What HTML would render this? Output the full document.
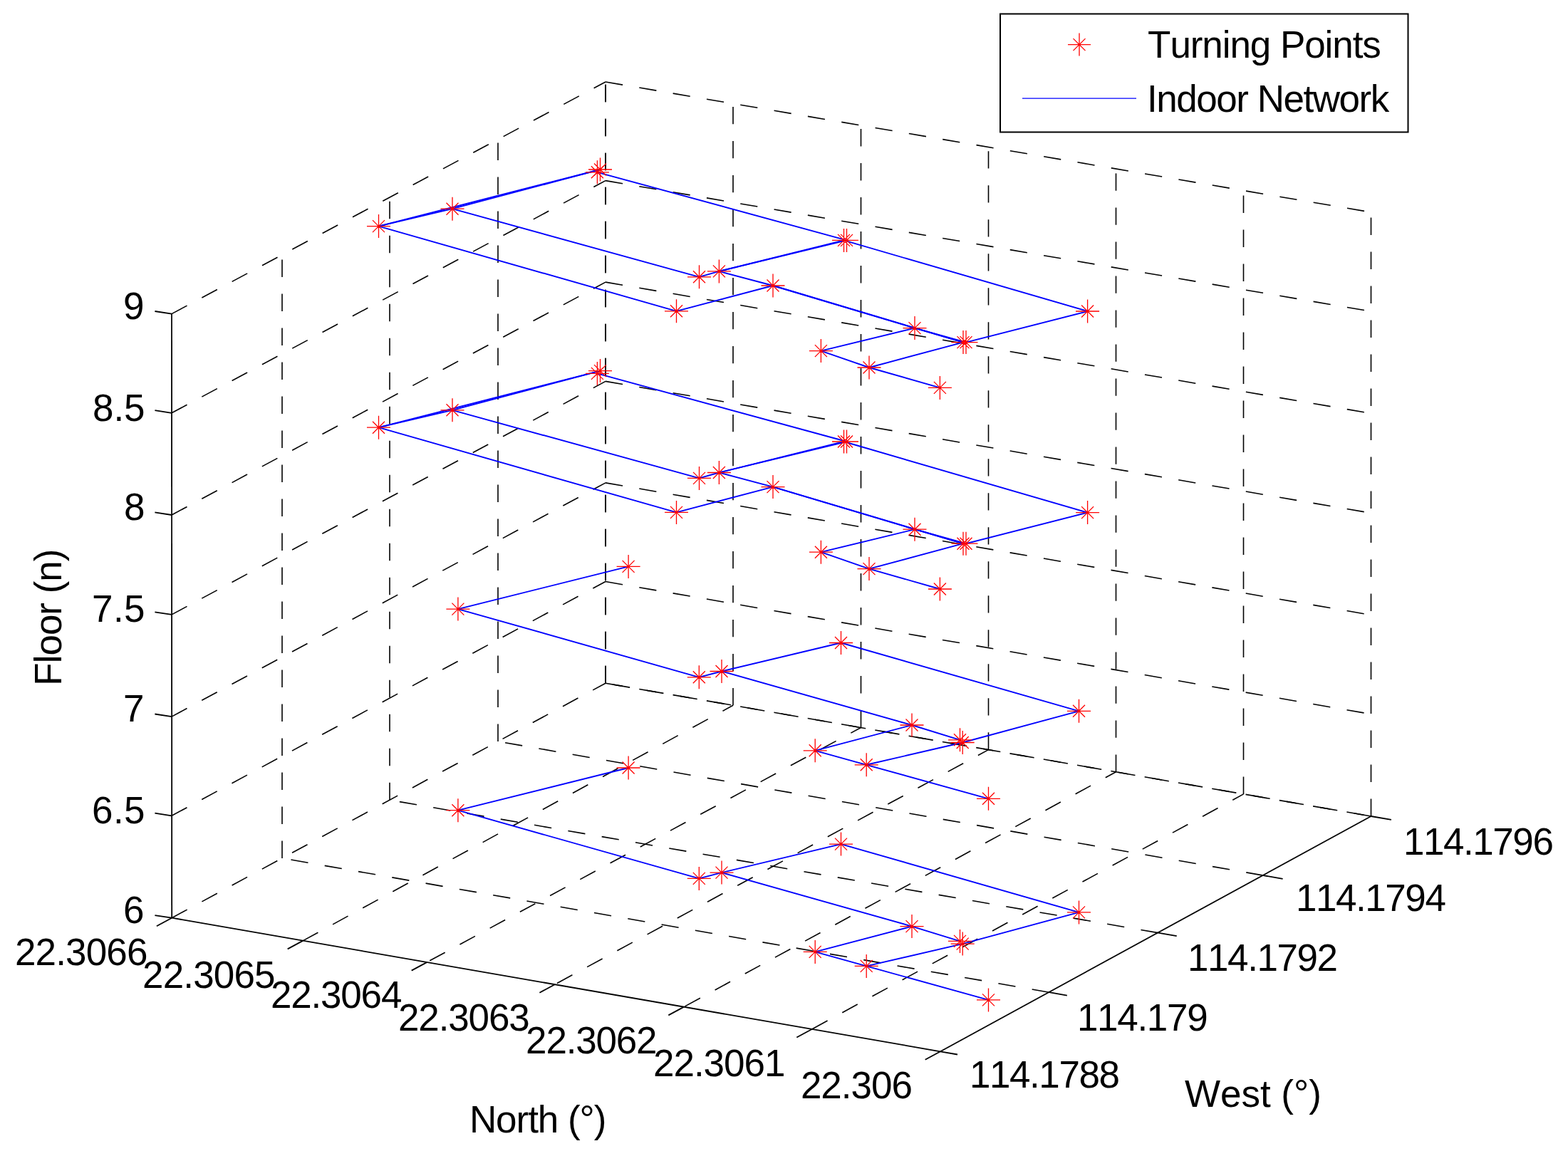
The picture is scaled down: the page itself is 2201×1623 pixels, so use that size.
<!DOCTYPE html>
<html><head><meta charset="utf-8"><style>
html,body{margin:0;padding:0;background:#fff;}
svg{display:block;}
.g{stroke:#000;stroke-width:1.6;stroke-dasharray:24.4 23.6;fill:none;}
.a{stroke:#000;stroke-width:1.8;fill:none;}
.d{stroke:#0000ff;stroke-width:1.9;fill:none;}
.mk{stroke:#ff0000;stroke-width:1.3;fill:none;}
.t{font-family:"Liberation Sans",Arial,Helvetica,sans-serif;font-size:53px;font-kerning:none;fill:#000;}
.lt{font-family:"Liberation Sans",Arial,Helvetica,sans-serif;font-size:53px;font-kerning:none;fill:#000;}
</style></head><body>
<svg width="2201" height="1623" viewBox="0 0 2201 1623" xmlns="http://www.w3.org/2000/svg">
<rect width="2201" height="1623" fill="#fff"/>
<line class="g" x1="241.2" y1="1288.7" x2="850" y2="959.2"/>
<line class="g" x1="425" y1="1320.9" x2="1029" y2="990.3"/>
<line class="g" x1="599" y1="1351.1" x2="1208.5" y2="1021.5" stroke-dashoffset="43.2"/>
<line class="g" x1="778.7" y1="1382.2" x2="1387.5" y2="1052.6" stroke-dashoffset="44.3"/>
<line class="g" x1="959.6" y1="1413.9" x2="1566.5" y2="1083.8" stroke-dashoffset="45.9"/>
<line class="g" x1="1139.6" y1="1445" x2="1745.5" y2="1114.9" stroke-dashoffset="47.4"/>
<line class="g" x1="1472.7" y1="1393.2" x2="396" y2="1204.9"/>
<line class="g" x1="1625.5" y1="1309.6" x2="547" y2="1123.2"/>
<line class="g" x1="1773.3" y1="1229.1" x2="699" y2="1040.9"/>
<line class="g" x1="1924.5" y1="1146" x2="850" y2="959.2"/>
<line class="g" x1="396" y1="1204.9" x2="396" y2="357.8"/>
<line class="g" x1="547" y1="1123.2" x2="547" y2="277.1"/>
<line class="g" x1="699" y1="1040.9" x2="699" y2="195.9"/>
<line class="g" x1="850" y1="959.2" x2="850" y2="115.3"/>
<line class="g" x1="241" y1="1145.3" x2="850" y2="816.5"/>
<line class="g" x1="241" y1="1006.1" x2="850" y2="677.9"/>
<line class="g" x1="241" y1="862.9" x2="850" y2="535.4"/>
<line class="g" x1="241" y1="723" x2="850" y2="396.1"/>
<line class="g" x1="241" y1="579.8" x2="850" y2="253.6"/>
<line class="g" x1="241" y1="440.6" x2="850" y2="115"/>
<line class="g" x1="850" y1="959.2" x2="850" y2="114.9"/>
<line class="g" x1="1029" y1="990.3" x2="1029" y2="145.4"/>
<line class="g" x1="1208.5" y1="1021.5" x2="1208.5" y2="176"/>
<line class="g" x1="1387.5" y1="1052.6" x2="1387.5" y2="206.5"/>
<line class="g" x1="1566.5" y1="1083.8" x2="1566.5" y2="236.9"/>
<line class="g" x1="1745.5" y1="1114.9" x2="1745.5" y2="267.4"/>
<line class="g" x1="1924.5" y1="1146" x2="1924.5" y2="297.9"/>
<line class="g" x1="850" y1="959.2" x2="1924.5" y2="1146"/>
<line class="g" x1="850" y1="816.5" x2="1924.5" y2="1002.6"/>
<line class="g" x1="850" y1="677.9" x2="1924.5" y2="863.4"/>
<line class="g" x1="850" y1="535.4" x2="1924.5" y2="720.3"/>
<line class="g" x1="850" y1="396.1" x2="1924.5" y2="580.4"/>
<line class="g" x1="850" y1="253.6" x2="1924.5" y2="437.2"/>
<line class="g" x1="850" y1="115" x2="1924.5" y2="298"/>
<line class="a" x1="241.2" y1="1288.7" x2="241" y2="440.6"/>
<line class="a" x1="241.2" y1="1288.7" x2="1320" y2="1476.3"/>
<line class="a" x1="1320" y1="1476.3" x2="1924.5" y2="1146"/>
<line class="a" x1="241" y1="1288.7" x2="217.4" y2="1285.1"/>
<line class="a" x1="241" y1="1145.3" x2="217.4" y2="1141.7"/>
<line class="a" x1="241" y1="1006.1" x2="217.4" y2="1002.5"/>
<line class="a" x1="241" y1="862.9" x2="217.4" y2="859.3"/>
<line class="a" x1="241" y1="723" x2="217.4" y2="719.4"/>
<line class="a" x1="241" y1="579.8" x2="217.4" y2="576.2"/>
<line class="a" x1="241" y1="440.6" x2="217.4" y2="437"/>
<line class="a" x1="241.2" y1="1288.7" x2="219.9" y2="1300.2"/>
<line class="a" x1="425" y1="1320.9" x2="403.7" y2="1332.4"/>
<line class="a" x1="599" y1="1351.1" x2="577.7" y2="1362.6"/>
<line class="a" x1="778.7" y1="1382.2" x2="757.4" y2="1393.7"/>
<line class="a" x1="959.6" y1="1413.9" x2="938.3" y2="1425.4"/>
<line class="a" x1="1139.6" y1="1445" x2="1118.3" y2="1456.5"/>
<line class="a" x1="1320" y1="1476.3" x2="1298.7" y2="1487.8"/>
<line class="a" x1="1320" y1="1476.3" x2="1344" y2="1480.5"/>
<line class="a" x1="1472.7" y1="1393.2" x2="1497.8" y2="1397.6"/>
<line class="a" x1="1625.5" y1="1309.6" x2="1651.7" y2="1314.2"/>
<line class="a" x1="1773.3" y1="1229.1" x2="1800.6" y2="1233.8"/>
<line class="a" x1="1924.5" y1="1146" x2="1952.9" y2="1150.9"/>
<line class="d" x1="531.5" y1="317.6" x2="635" y2="293.2"/>
<line class="d" x1="531.5" y1="317.6" x2="949.5" y2="436.8"/>
<line class="d" x1="635" y1="293.2" x2="842.5" y2="238"/>
<line class="d" x1="531.5" y1="317.6" x2="842.5" y2="238"/>
<line class="d" x1="635" y1="293.2" x2="981.5" y2="388.8"/>
<line class="d" x1="838.4" y1="241.8" x2="1188.5" y2="337.4"/>
<line class="d" x1="981.5" y1="388.8" x2="1009.4" y2="380.9"/>
<line class="d" x1="1009.4" y1="380.9" x2="1184.5" y2="337.4"/>
<line class="d" x1="1009.4" y1="380.9" x2="1188.5" y2="337.4"/>
<line class="d" x1="1009.4" y1="380.9" x2="1085" y2="401"/>
<line class="d" x1="949.5" y1="436.8" x2="1085" y2="401"/>
<line class="d" x1="1085" y1="401" x2="1284" y2="460.6"/>
<line class="d" x1="1085" y1="401" x2="1352" y2="480.6"/>
<line class="d" x1="1284" y1="460.6" x2="1352" y2="480.6"/>
<line class="d" x1="1284" y1="460.6" x2="1356" y2="480.6"/>
<line class="d" x1="1184.5" y1="337.4" x2="1526.6" y2="437"/>
<line class="d" x1="1526.6" y1="437" x2="1356" y2="480.6"/>
<line class="d" x1="1152.4" y1="492.6" x2="1284" y2="460.6"/>
<line class="d" x1="1152.4" y1="492.6" x2="1220" y2="516"/>
<line class="d" x1="1220" y1="516" x2="1352" y2="480.6"/>
<line class="d" x1="1220" y1="516" x2="1319.4" y2="544.4"/>
<line class="d" x1="531.5" y1="600.2" x2="635" y2="575.8"/>
<line class="d" x1="531.5" y1="600.2" x2="949.5" y2="719.4"/>
<line class="d" x1="635" y1="575.8" x2="842.5" y2="520.6"/>
<line class="d" x1="531.5" y1="600.2" x2="842.5" y2="520.6"/>
<line class="d" x1="635" y1="575.8" x2="981.5" y2="671.4"/>
<line class="d" x1="838.4" y1="524.4" x2="1188.5" y2="620"/>
<line class="d" x1="981.5" y1="671.4" x2="1009.4" y2="663.5"/>
<line class="d" x1="1009.4" y1="663.5" x2="1184.5" y2="620"/>
<line class="d" x1="1009.4" y1="663.5" x2="1188.5" y2="620"/>
<line class="d" x1="1009.4" y1="663.5" x2="1085" y2="683.6"/>
<line class="d" x1="949.5" y1="719.4" x2="1085" y2="683.6"/>
<line class="d" x1="1085" y1="683.6" x2="1284" y2="743.2"/>
<line class="d" x1="1085" y1="683.6" x2="1352" y2="763.2"/>
<line class="d" x1="1284" y1="743.2" x2="1352" y2="763.2"/>
<line class="d" x1="1284" y1="743.2" x2="1356" y2="763.2"/>
<line class="d" x1="1184.5" y1="620" x2="1526.6" y2="719.6"/>
<line class="d" x1="1526.6" y1="719.6" x2="1356" y2="763.2"/>
<line class="d" x1="1152.4" y1="775.2" x2="1284" y2="743.2"/>
<line class="d" x1="1152.4" y1="775.2" x2="1220" y2="798.6"/>
<line class="d" x1="1220" y1="798.6" x2="1352" y2="763.2"/>
<line class="d" x1="1220" y1="798.6" x2="1319.4" y2="827"/>
<line class="d" x1="642.9" y1="855.1" x2="882.1" y2="795.4"/>
<line class="d" x1="642.9" y1="855.1" x2="981.3" y2="950.8"/>
<line class="d" x1="981.3" y1="950.8" x2="1013" y2="942.5"/>
<line class="d" x1="1013" y1="942.5" x2="1180.5" y2="902.5"/>
<line class="d" x1="1013" y1="942.5" x2="1280" y2="1018"/>
<line class="d" x1="1280" y1="1018" x2="1347.5" y2="1038.8"/>
<line class="d" x1="1180.5" y1="902.5" x2="1514.5" y2="998.3"/>
<line class="d" x1="1514.5" y1="998.3" x2="1351.2" y2="1042.5"/>
<line class="d" x1="1144.2" y1="1053.8" x2="1280" y2="1018"/>
<line class="d" x1="1144.2" y1="1053.8" x2="1216.2" y2="1073.8"/>
<line class="d" x1="1216.2" y1="1073.8" x2="1351.2" y2="1042.5"/>
<line class="d" x1="1216.2" y1="1073.8" x2="1387.5" y2="1121.3"/>
<line class="d" x1="642.9" y1="1137.7" x2="882.1" y2="1078"/>
<line class="d" x1="642.9" y1="1137.7" x2="981.3" y2="1233.4"/>
<line class="d" x1="981.3" y1="1233.4" x2="1013" y2="1225.1"/>
<line class="d" x1="1013" y1="1225.1" x2="1180.5" y2="1185.1"/>
<line class="d" x1="1013" y1="1225.1" x2="1280" y2="1300.6"/>
<line class="d" x1="1280" y1="1300.6" x2="1347.5" y2="1321.4"/>
<line class="d" x1="1180.5" y1="1185.1" x2="1514.5" y2="1280.9"/>
<line class="d" x1="1514.5" y1="1280.9" x2="1351.2" y2="1325.1"/>
<line class="d" x1="1144.2" y1="1336.4" x2="1280" y2="1300.6"/>
<line class="d" x1="1144.2" y1="1336.4" x2="1216.2" y2="1356.4"/>
<line class="d" x1="1216.2" y1="1356.4" x2="1351.2" y2="1325.1"/>
<line class="d" x1="1216.2" y1="1356.4" x2="1387.5" y2="1403.9"/>
<path class="mk" d="M515 317.6h33M531.5 301.1v33M523 309.1l17 17M523 326.1l17 -17M618.5 293.2h33M635 276.7v33M626.5 284.7l17 17M626.5 301.7l17 -17M826 238h33M842.5 221.5v33M834 229.5l17 17M834 246.5l17 -17M821.9 241.8h33M838.4 225.3v33M829.9 233.3l17 17M829.9 250.3l17 -17M965 388.8h33M981.5 372.3v33M973 380.3l17 17M973 397.3l17 -17M992.9 380.9h33M1009.4 364.4v33M1000.9 372.4l17 17M1000.9 389.4l17 -17M933 436.8h33M949.5 420.3v33M941 428.3l17 17M941 445.3l17 -17M1068.5 401h33M1085 384.5v33M1076.5 392.5l17 17M1076.5 409.5l17 -17M1168 337.4h33M1184.5 320.9v33M1176 328.9l17 17M1176 345.9l17 -17M1172 337.4h33M1188.5 320.9v33M1180 328.9l17 17M1180 345.9l17 -17M1267.5 460.6h33M1284 444.1v33M1275.5 452.1l17 17M1275.5 469.1l17 -17M1335.5 480.6h33M1352 464.1v33M1343.5 472.1l17 17M1343.5 489.1l17 -17M1339.5 480.6h33M1356 464.1v33M1347.5 472.1l17 17M1347.5 489.1l17 -17M1510.1 437h33M1526.6 420.5v33M1518.1 428.5l17 17M1518.1 445.5l17 -17M1135.9 492.6h33M1152.4 476.1v33M1143.9 484.1l17 17M1143.9 501.1l17 -17M1203.5 516h33M1220 499.5v33M1211.5 507.5l17 17M1211.5 524.5l17 -17M1302.9 544.4h33M1319.4 527.9v33M1310.9 535.9l17 17M1310.9 552.9l17 -17M515 600.2h33M531.5 583.7v33M523 591.7l17 17M523 608.7l17 -17M618.5 575.8h33M635 559.3v33M626.5 567.3l17 17M626.5 584.3l17 -17M826 520.6h33M842.5 504.1v33M834 512.1l17 17M834 529.1l17 -17M821.9 524.4h33M838.4 507.9v33M829.9 515.9l17 17M829.9 532.9l17 -17M965 671.4h33M981.5 654.9v33M973 662.9l17 17M973 679.9l17 -17M992.9 663.5h33M1009.4 647v33M1000.9 655l17 17M1000.9 672l17 -17M933 719.4h33M949.5 702.9v33M941 710.9l17 17M941 727.9l17 -17M1068.5 683.6h33M1085 667.1v33M1076.5 675.1l17 17M1076.5 692.1l17 -17M1168 620h33M1184.5 603.5v33M1176 611.5l17 17M1176 628.5l17 -17M1172 620h33M1188.5 603.5v33M1180 611.5l17 17M1180 628.5l17 -17M1267.5 743.2h33M1284 726.7v33M1275.5 734.7l17 17M1275.5 751.7l17 -17M1335.5 763.2h33M1352 746.7v33M1343.5 754.7l17 17M1343.5 771.7l17 -17M1339.5 763.2h33M1356 746.7v33M1347.5 754.7l17 17M1347.5 771.7l17 -17M1510.1 719.6h33M1526.6 703.1v33M1518.1 711.1l17 17M1518.1 728.1l17 -17M1135.9 775.2h33M1152.4 758.7v33M1143.9 766.7l17 17M1143.9 783.7l17 -17M1203.5 798.6h33M1220 782.1v33M1211.5 790.1l17 17M1211.5 807.1l17 -17M1302.9 827h33M1319.4 810.5v33M1310.9 818.5l17 17M1310.9 835.5l17 -17M626.4 855.1h33M642.9 838.6v33M634.4 846.6l17 17M634.4 863.6l17 -17M865.6 795.4h33M882.1 778.9v33M873.6 786.9l17 17M873.6 803.9l17 -17M964.8 950.8h33M981.3 934.3v33M972.8 942.3l17 17M972.8 959.3l17 -17M996.5 942.5h33M1013 926v33M1004.5 934l17 17M1004.5 951l17 -17M1164 902.5h33M1180.5 886v33M1172 894l17 17M1172 911l17 -17M1263.5 1018h33M1280 1001.5v33M1271.5 1009.5l17 17M1271.5 1026.5l17 -17M1331 1038.8h33M1347.5 1022.3v33M1339 1030.3l17 17M1339 1047.3l17 -17M1334.7 1042.5h33M1351.2 1026v33M1342.7 1034l17 17M1342.7 1051l17 -17M1498 998.3h33M1514.5 981.8v33M1506 989.8l17 17M1506 1006.8l17 -17M1127.7 1053.8h33M1144.2 1037.3v33M1135.7 1045.3l17 17M1135.7 1062.3l17 -17M1199.7 1073.8h33M1216.2 1057.3v33M1207.7 1065.3l17 17M1207.7 1082.3l17 -17M1371 1121.3h33M1387.5 1104.8v33M1379 1112.8l17 17M1379 1129.8l17 -17M626.4 1137.7h33M642.9 1121.2v33M634.4 1129.2l17 17M634.4 1146.2l17 -17M865.6 1078h33M882.1 1061.5v33M873.6 1069.5l17 17M873.6 1086.5l17 -17M964.8 1233.4h33M981.3 1216.9v33M972.8 1224.9l17 17M972.8 1241.9l17 -17M996.5 1225.1h33M1013 1208.6v33M1004.5 1216.6l17 17M1004.5 1233.6l17 -17M1164 1185.1h33M1180.5 1168.6v33M1172 1176.6l17 17M1172 1193.6l17 -17M1263.5 1300.6h33M1280 1284.1v33M1271.5 1292.1l17 17M1271.5 1309.1l17 -17M1331 1321.4h33M1347.5 1304.9v33M1339 1312.9l17 17M1339 1329.9l17 -17M1334.7 1325.1h33M1351.2 1308.6v33M1342.7 1316.6l17 17M1342.7 1333.6l17 -17M1498 1280.9h33M1514.5 1264.4v33M1506 1272.4l17 17M1506 1289.4l17 -17M1127.7 1336.4h33M1144.2 1319.9v33M1135.7 1327.9l17 17M1135.7 1344.9l17 -17M1199.7 1356.4h33M1216.2 1339.9v33M1207.7 1347.9l17 17M1207.7 1364.9l17 -17M1371 1403.9h33M1387.5 1387.4v33M1379 1395.4l17 17M1379 1412.4l17 -17"/>
<text class="t" x="172.9" y="447.9">9</text>
<text class="t" x="129.9" y="591" textLength="73.69" lengthAdjust="spacing">8.5</text>
<text class="t" x="174" y="729.9">8</text>
<text class="t" x="129" y="872.9" textLength="74.59" lengthAdjust="spacing">7.5</text>
<text class="t" x="173" y="1012.9">7</text>
<text class="t" x="129" y="1156" textLength="74.59" lengthAdjust="spacing">6.5</text>
<text class="t" x="172.9" y="1296">6</text>
<text class="t" x="20.9" y="1355" textLength="186.59" lengthAdjust="spacing">22.3066</text>
<text class="t" x="200" y="1387.1" textLength="186.59" lengthAdjust="spacing">22.3065</text>
<text class="t" x="379.9" y="1415" textLength="184.49" lengthAdjust="spacing">22.3064</text>
<text class="t" x="559" y="1447.2" textLength="184.79" lengthAdjust="spacing">22.3063</text>
<text class="t" x="738.1" y="1478.9" textLength="184.39" lengthAdjust="spacing">22.3062</text>
<text class="t" x="917" y="1510.9" textLength="185.37" lengthAdjust="spacing">22.3061</text>
<text class="t" x="1123.9" y="1542" textLength="157.01" lengthAdjust="spacing">22.306</text>
<text class="t" x="1360.9" y="1526.9" textLength="211.06" lengthAdjust="spacing">114.1788</text>
<text class="t" x="1511.9" y="1447" textLength="183.79" lengthAdjust="spacing">114.179</text>
<text class="t" x="1667" y="1362.8" textLength="211.06" lengthAdjust="spacing">114.1792</text>
<text class="t" x="1819" y="1278.8" textLength="210.86" lengthAdjust="spacing">114.1794</text>
<text class="t" x="1970" y="1199.9" textLength="210.86" lengthAdjust="spacing">114.1796</text>
<text class="t" x="658.9" y="1589.8" textLength="192.43" lengthAdjust="spacing">North (&#176;)</text>
<text class="t" x="1662.9" y="1553.7" textLength="191.95" lengthAdjust="spacing">West (&#176;)</text>
<text class="t" textLength="192.17" lengthAdjust="spacing" transform="translate(85.9 962.7) rotate(-90)">Floor (n)</text>
<rect x="1404" y="19.5" width="572.5" height="166" fill="#fff" stroke="#000" stroke-width="2"/>
<path class="mk" d="M1499 62.6h32M1515 46.6v32M1506.5 54.1l17 17M1506.5 71.1l17 -17"/>
<line x1="1435" y1="138.1" x2="1595" y2="138.1" stroke="#00f" stroke-width="1.3"/>
<text class="t" x="1611.1" y="80.8" textLength="327.73" lengthAdjust="spacing">Turning Points</text>
<text class="t" x="1609.9" y="157" textLength="340.39" lengthAdjust="spacing">Indoor Network</text>
</svg>
</body></html>
